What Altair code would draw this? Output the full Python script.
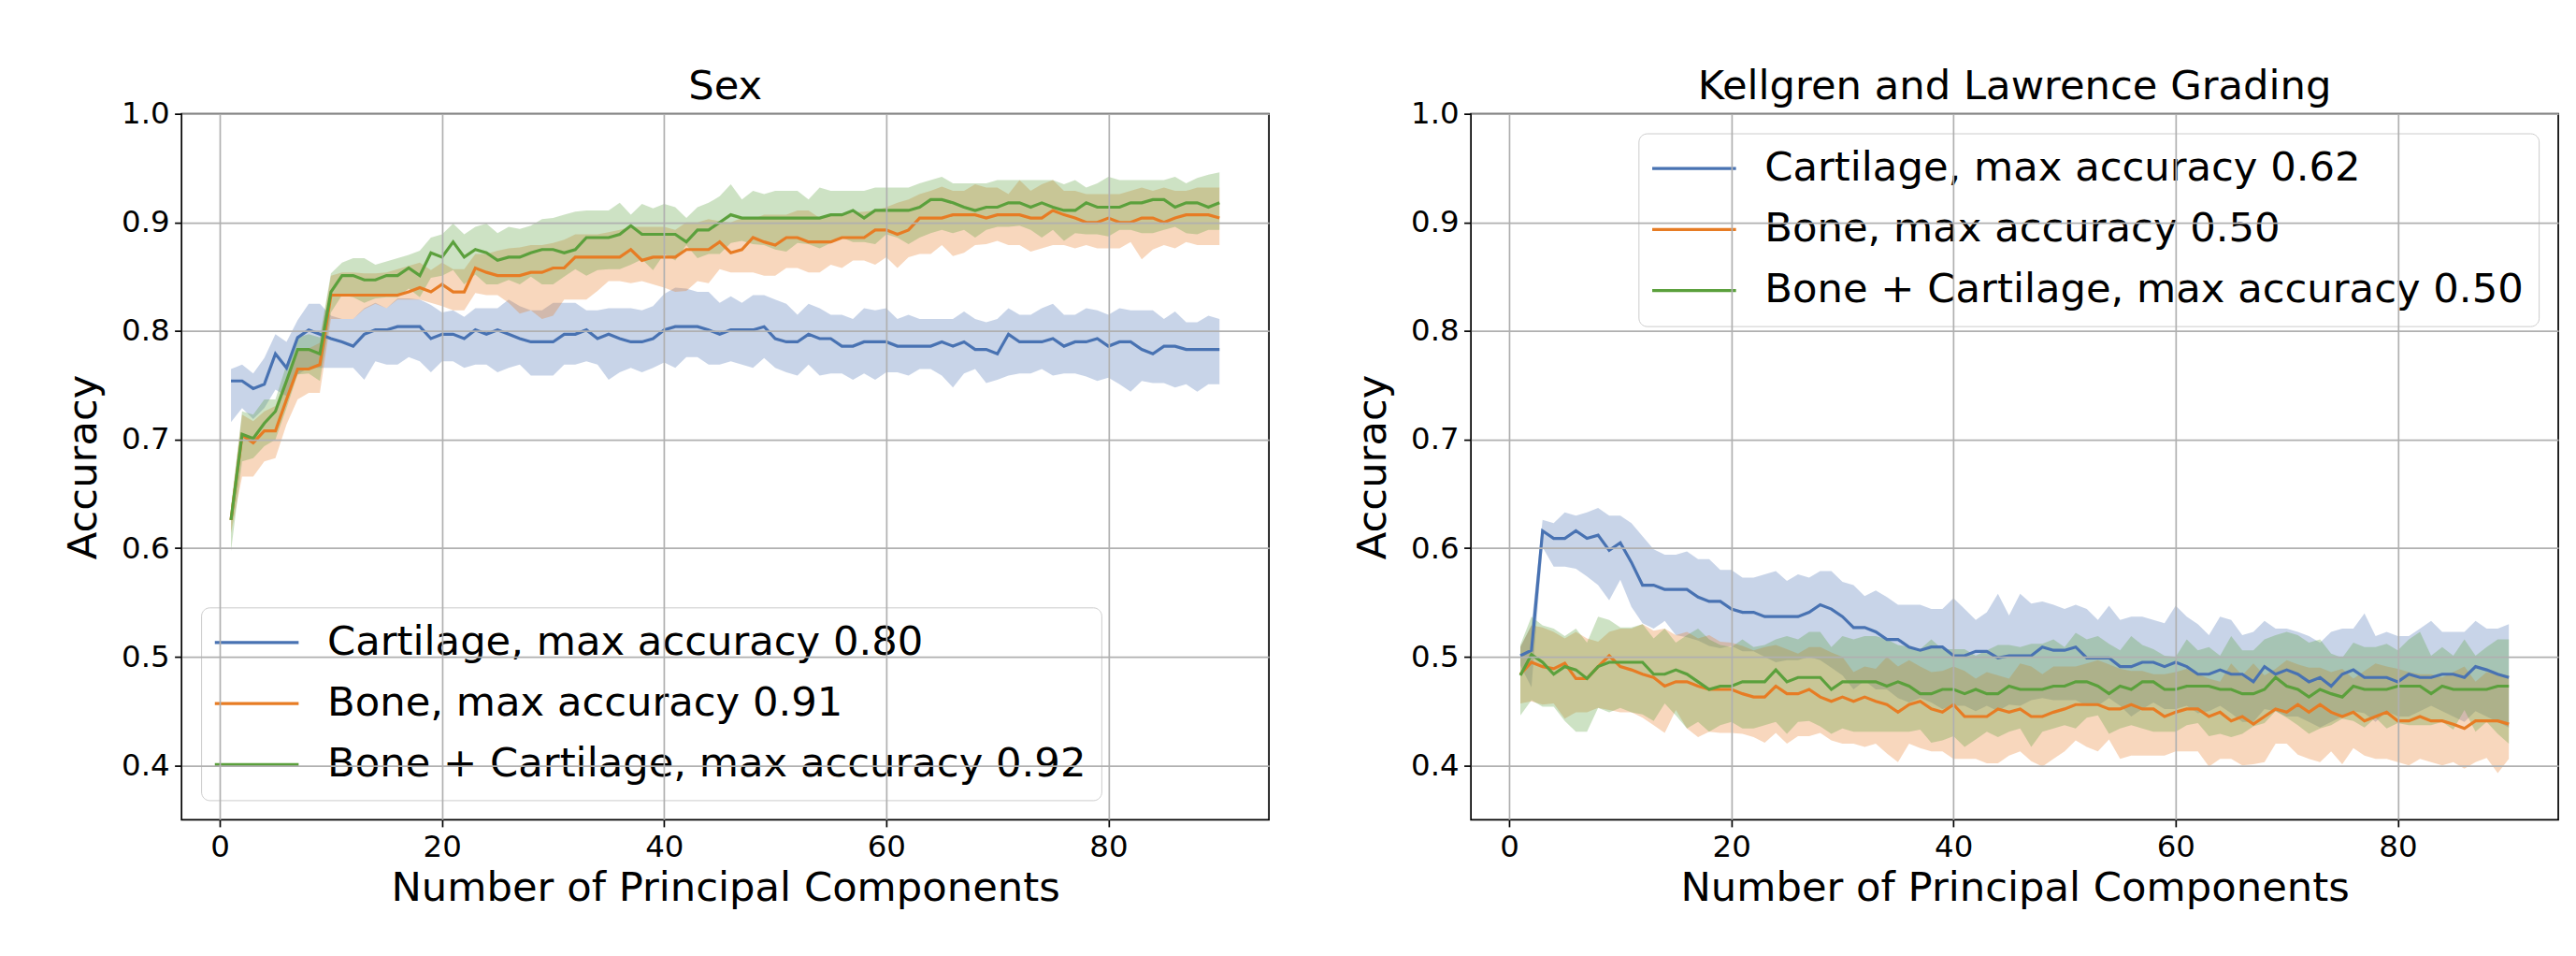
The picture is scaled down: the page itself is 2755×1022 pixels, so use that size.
import altair as alt
import pandas as pd

x_pc = list(range(1, 91))

# ---------------- Sex panel ----------------
sex_cart = [0.754, 0.754, 0.747, 0.751, 0.779, 0.766, 0.794, 0.801, 0.797, 0.793, 0.790, 0.786, 0.797, 0.801, 0.801, 0.804, 0.804, 0.804, 0.793, 0.797, 0.797, 0.793, 0.801,
            0.797, 0.801, 0.797, 0.793, 0.790, 0.790, 0.790, 0.797, 0.797, 0.801, 0.793, 0.797, 0.793, 0.790, 0.790, 0.793, 0.801, 0.804, 0.804, 0.804, 0.801, 0.797, 0.801,
            0.801, 0.801, 0.804, 0.793, 0.790, 0.790, 0.797, 0.793, 0.793, 0.786, 0.786, 0.790, 0.790, 0.790, 0.786, 0.786, 0.786, 0.786, 0.790, 0.786, 0.790, 0.783,
            0.783, 0.779, 0.797, 0.790, 0.790, 0.790, 0.793, 0.786, 0.790, 0.790, 0.793, 0.786, 0.790, 0.790, 0.783, 0.779, 0.786, 0.786, 0.783, 0.783, 0.783, 0.783]
sex_cart_hi = [0.765, 0.769, 0.761, 0.775, 0.797, 0.790, 0.810, 0.825, 0.825, 0.814, 0.811, 0.811, 0.821, 0.826, 0.821, 0.830, 0.830, 0.829, 0.824, 0.817, 0.819, 0.813, 0.821,
               0.821, 0.821, 0.829, 0.823, 0.819, 0.819, 0.826, 0.826, 0.826, 0.819, 0.819, 0.821, 0.821, 0.821, 0.819, 0.823, 0.834, 0.840, 0.839, 0.836, 0.836, 0.826, 0.832,
               0.826, 0.833, 0.833, 0.829, 0.825, 0.815, 0.825, 0.821, 0.815, 0.815, 0.811, 0.821, 0.819, 0.821, 0.811, 0.815, 0.811, 0.811, 0.811, 0.811, 0.818, 0.811,
               0.808, 0.811, 0.821, 0.815, 0.815, 0.821, 0.825, 0.815, 0.815, 0.821, 0.819, 0.815, 0.821, 0.819, 0.819, 0.819, 0.811, 0.818, 0.808, 0.808, 0.814, 0.811]
sex_cart_lo = [0.716, 0.729, 0.719, 0.729, 0.746, 0.740, 0.760, 0.766, 0.766, 0.766, 0.766, 0.766, 0.755, 0.772, 0.769, 0.769, 0.776, 0.772, 0.762, 0.772, 0.772, 0.766, 0.769,
               0.769, 0.762, 0.766, 0.769, 0.759, 0.759, 0.759, 0.769, 0.769, 0.772, 0.769, 0.755, 0.762, 0.766, 0.762, 0.766, 0.771, 0.766, 0.776, 0.776, 0.769, 0.769, 0.772,
               0.769, 0.766, 0.775, 0.766, 0.762, 0.759, 0.769, 0.759, 0.761, 0.761, 0.755, 0.761, 0.755, 0.762, 0.762, 0.759, 0.765, 0.765, 0.759, 0.748, 0.761, 0.765,
               0.752, 0.755, 0.759, 0.761, 0.761, 0.765, 0.759, 0.761, 0.761, 0.758, 0.754, 0.757, 0.751, 0.744, 0.754, 0.752, 0.752, 0.748, 0.751, 0.744, 0.751, 0.751]

sex_bone = [0.626, 0.704, 0.697, 0.708, 0.708, 0.737, 0.765, 0.765, 0.769, 0.833, 0.833, 0.833, 0.833, 0.833, 0.833, 0.833, 0.836, 0.840, 0.836, 0.843, 0.836, 0.836, 0.858,
            0.854, 0.851, 0.851, 0.851, 0.854, 0.854, 0.858, 0.858, 0.868, 0.868, 0.868, 0.868, 0.868, 0.875, 0.865, 0.868, 0.868, 0.868, 0.875, 0.875, 0.875, 0.882, 0.872,
            0.875, 0.886, 0.882, 0.879, 0.886, 0.886, 0.882, 0.882, 0.882, 0.886, 0.886, 0.886, 0.893, 0.893, 0.889, 0.893, 0.904, 0.904, 0.904, 0.907, 0.907, 0.907,
            0.904, 0.907, 0.907, 0.907, 0.904, 0.904, 0.911, 0.907, 0.904, 0.900, 0.900, 0.904, 0.900, 0.900, 0.904, 0.904, 0.900, 0.904, 0.907, 0.907, 0.907, 0.904]
sex_bone_hi = [0.637, 0.723, 0.717, 0.726, 0.731, 0.757, 0.783, 0.784, 0.789, 0.851, 0.854, 0.854, 0.853, 0.853, 0.854, 0.857, 0.860, 0.863, 0.856, 0.863, 0.857, 0.857, 0.871,
               0.871, 0.874, 0.876, 0.877, 0.879, 0.879, 0.881, 0.884, 0.889, 0.889, 0.889, 0.891, 0.893, 0.896, 0.896, 0.896, 0.896, 0.893, 0.900, 0.900, 0.903, 0.901, 0.900,
               0.904, 0.903, 0.907, 0.907, 0.907, 0.911, 0.911, 0.904, 0.907, 0.907, 0.909, 0.910, 0.911, 0.914, 0.918, 0.921, 0.926, 0.929, 0.933, 0.929, 0.929, 0.935,
               0.932, 0.932, 0.926, 0.939, 0.929, 0.935, 0.939, 0.929, 0.929, 0.926, 0.926, 0.926, 0.926, 0.929, 0.932, 0.929, 0.932, 0.929, 0.929, 0.932, 0.932, 0.932]
sex_bone_lo = [0.614, 0.666, 0.666, 0.680, 0.683, 0.714, 0.737, 0.743, 0.743, 0.811, 0.811, 0.811, 0.820, 0.825, 0.821, 0.829, 0.829, 0.829, 0.826, 0.823, 0.819, 0.819, 0.835,
               0.833, 0.833, 0.826, 0.816, 0.819, 0.811, 0.814, 0.829, 0.829, 0.829, 0.837, 0.846, 0.846, 0.844, 0.846, 0.843, 0.840, 0.836, 0.837, 0.846, 0.844, 0.857, 0.854,
               0.854, 0.854, 0.851, 0.851, 0.858, 0.858, 0.854, 0.854, 0.861, 0.858, 0.865, 0.865, 0.861, 0.868, 0.858, 0.868, 0.871, 0.871, 0.879, 0.869, 0.872, 0.879,
               0.880, 0.883, 0.879, 0.879, 0.873, 0.876, 0.879, 0.879, 0.876, 0.879, 0.876, 0.876, 0.876, 0.882, 0.866, 0.875, 0.879, 0.876, 0.882, 0.879, 0.879, 0.879]

sex_both = [0.626, 0.705, 0.701, 0.715, 0.726, 0.754, 0.783, 0.783, 0.779, 0.836, 0.851, 0.851, 0.847, 0.847, 0.851, 0.851, 0.858, 0.851, 0.872, 0.868, 0.882, 0.868, 0.875,
            0.872, 0.865, 0.868, 0.868, 0.872, 0.875, 0.875, 0.872, 0.875, 0.886, 0.886, 0.886, 0.889, 0.897, 0.889, 0.889, 0.889, 0.889, 0.882, 0.893, 0.893, 0.900, 0.907,
            0.904, 0.904, 0.904, 0.904, 0.904, 0.904, 0.904, 0.904, 0.907, 0.907, 0.911, 0.904, 0.911, 0.911, 0.911, 0.911, 0.914, 0.921, 0.921, 0.918, 0.914, 0.911,
            0.914, 0.914, 0.918, 0.918, 0.914, 0.918, 0.914, 0.911, 0.911, 0.918, 0.914, 0.914, 0.914, 0.918, 0.918, 0.921, 0.921, 0.914, 0.918, 0.918, 0.914, 0.918]
sex_both_hi = [0.637, 0.726, 0.723, 0.737, 0.737, 0.769, 0.794, 0.797, 0.794, 0.853, 0.863, 0.867, 0.867, 0.861, 0.864, 0.867, 0.870, 0.874, 0.886, 0.889, 0.899, 0.889, 0.896,
               0.899, 0.890, 0.896, 0.894, 0.897, 0.903, 0.904, 0.907, 0.910, 0.911, 0.911, 0.911, 0.918, 0.907, 0.917, 0.913, 0.917, 0.914, 0.904, 0.914, 0.918, 0.924, 0.935,
               0.921, 0.929, 0.926, 0.929, 0.929, 0.929, 0.921, 0.932, 0.929, 0.929, 0.929, 0.929, 0.932, 0.932, 0.932, 0.932, 0.936, 0.939, 0.942, 0.936, 0.936, 0.936,
               0.936, 0.939, 0.939, 0.939, 0.939, 0.939, 0.939, 0.935, 0.939, 0.932, 0.936, 0.942, 0.939, 0.939, 0.939, 0.939, 0.939, 0.942, 0.936, 0.941, 0.944, 0.946]
sex_both_lo = [0.597, 0.680, 0.683, 0.694, 0.700, 0.729, 0.760, 0.761, 0.754, 0.817, 0.833, 0.831, 0.826, 0.830, 0.831, 0.831, 0.839, 0.831, 0.849, 0.851, 0.856, 0.843, 0.852,
               0.843, 0.843, 0.847, 0.843, 0.850, 0.843, 0.843, 0.850, 0.857, 0.851, 0.856, 0.857, 0.857, 0.861, 0.866, 0.856, 0.871, 0.865, 0.879, 0.867, 0.871, 0.871, 0.881,
               0.883, 0.880, 0.879, 0.875, 0.873, 0.881, 0.880, 0.876, 0.881, 0.886, 0.882, 0.882, 0.880, 0.889, 0.886, 0.880, 0.886, 0.890, 0.893, 0.890, 0.893, 0.886,
               0.893, 0.896, 0.896, 0.897, 0.893, 0.886, 0.893, 0.883, 0.890, 0.889, 0.889, 0.887, 0.893, 0.893, 0.890, 0.890, 0.893, 0.896, 0.890, 0.889, 0.893, 0.893]

# ---------------- Kellgren and Lawrence panel ----------------
kl_cart = [0.501, 0.506, 0.616, 0.609, 0.609, 0.616, 0.609, 0.612, 0.598, 0.605, 0.587, 0.566, 0.566, 0.562, 0.562, 0.562, 0.555, 0.551, 0.551, 0.544, 0.541, 0.541, 0.537,
           0.537, 0.537, 0.537, 0.541, 0.548, 0.544, 0.537, 0.527, 0.527, 0.523, 0.516, 0.516, 0.509, 0.506, 0.509, 0.509, 0.501, 0.501, 0.505, 0.505, 0.499, 0.501,
           0.501, 0.501, 0.509, 0.506, 0.506, 0.509, 0.499, 0.499, 0.499, 0.491, 0.491, 0.495, 0.495, 0.491, 0.495, 0.491, 0.484, 0.484, 0.488, 0.484, 0.484, 0.477, 0.491,
           0.484, 0.488, 0.484, 0.477, 0.481, 0.473, 0.484, 0.488, 0.481, 0.481, 0.481, 0.477, 0.484, 0.481, 0.481, 0.484, 0.484, 0.481, 0.491, 0.488, 0.484, 0.481]
kl_cart_hi = [0.509, 0.529, 0.626, 0.623, 0.633, 0.630, 0.633, 0.637, 0.630, 0.630, 0.623, 0.611, 0.599, 0.594, 0.594, 0.597, 0.590, 0.590, 0.580, 0.580, 0.573, 0.573, 0.576,
              0.579, 0.570, 0.576, 0.573, 0.579, 0.579, 0.569, 0.566, 0.556, 0.561, 0.555, 0.548, 0.548, 0.548, 0.544, 0.544, 0.554, 0.544, 0.534, 0.541, 0.558, 0.538,
              0.558, 0.549, 0.551, 0.548, 0.544, 0.548, 0.544, 0.534, 0.547, 0.534, 0.537, 0.537, 0.534, 0.531, 0.547, 0.537, 0.530, 0.520, 0.537, 0.534, 0.520, 0.523, 0.533,
              0.526, 0.526, 0.523, 0.519, 0.513, 0.523, 0.526, 0.526, 0.540, 0.519, 0.523, 0.519, 0.519, 0.526, 0.533, 0.523, 0.523, 0.523, 0.533, 0.526, 0.526, 0.530]
kl_cart_lo = [0.492, 0.472, 0.601, 0.583, 0.583, 0.581, 0.574, 0.566, 0.552, 0.571, 0.546, 0.531, 0.526, 0.533, 0.520, 0.518, 0.515, 0.510, 0.508, 0.510, 0.505, 0.505, 0.500,
              0.495, 0.497, 0.497, 0.500, 0.497, 0.490, 0.483, 0.470, 0.478, 0.470, 0.470, 0.462, 0.458, 0.462, 0.458, 0.452, 0.455, 0.455, 0.450, 0.455, 0.450, 0.456,
              0.455, 0.460, 0.462, 0.460, 0.460, 0.460, 0.455, 0.455, 0.462, 0.455, 0.445, 0.452, 0.458, 0.452, 0.452, 0.455, 0.448, 0.450, 0.455, 0.448, 0.440, 0.440, 0.452,
              0.450, 0.445, 0.445, 0.440, 0.435, 0.440, 0.445, 0.450, 0.448, 0.440, 0.450, 0.445, 0.445, 0.450, 0.455, 0.450, 0.445, 0.440, 0.450, 0.445, 0.440, 0.435]

kl_bone = [0.484, 0.495, 0.491, 0.489, 0.494, 0.480, 0.480, 0.491, 0.501, 0.491, 0.488, 0.484, 0.481, 0.473, 0.477, 0.477, 0.473, 0.470, 0.470, 0.470, 0.466, 0.463, 0.463,
           0.473, 0.466, 0.466, 0.470, 0.463, 0.459, 0.463, 0.459, 0.463, 0.459, 0.456, 0.449, 0.456, 0.459, 0.452, 0.449, 0.456, 0.445, 0.445, 0.445, 0.452, 0.449,
           0.452, 0.445, 0.445, 0.449, 0.452, 0.456, 0.456, 0.456, 0.452, 0.452, 0.456, 0.452, 0.452, 0.445, 0.449, 0.452, 0.452, 0.445, 0.449, 0.441, 0.445, 0.438, 0.445,
           0.452, 0.449, 0.456, 0.449, 0.456, 0.449, 0.445, 0.449, 0.441, 0.445, 0.449, 0.441, 0.441, 0.445, 0.441, 0.441, 0.438, 0.434, 0.441, 0.441, 0.441, 0.438]
kl_bone_hi = [0.509, 0.529, 0.527, 0.523, 0.517, 0.523, 0.517, 0.514, 0.523, 0.526, 0.526, 0.530, 0.524, 0.526, 0.520, 0.523, 0.517, 0.520, 0.514, 0.513, 0.510, 0.506, 0.509,
              0.511, 0.507, 0.503, 0.509, 0.509, 0.504, 0.500, 0.486, 0.491, 0.489, 0.500, 0.491, 0.497, 0.491, 0.486, 0.487, 0.491, 0.487, 0.480, 0.486, 0.483, 0.480,
              0.494, 0.491, 0.484, 0.491, 0.491, 0.491, 0.494, 0.497, 0.493, 0.489, 0.487, 0.487, 0.484, 0.484, 0.486, 0.489, 0.484, 0.480, 0.477, 0.494, 0.483, 0.494, 0.483,
              0.489, 0.497, 0.493, 0.490, 0.490, 0.486, 0.489, 0.480, 0.487, 0.494, 0.491, 0.489, 0.486, 0.484, 0.484, 0.481, 0.486, 0.491, 0.477, 0.486, 0.484, 0.483]
kl_bone_lo = [0.457, 0.459, 0.456, 0.457, 0.443, 0.449, 0.449, 0.453, 0.451, 0.449, 0.449, 0.444, 0.437, 0.430, 0.451, 0.434, 0.426, 0.431, 0.430, 0.430, 0.429, 0.426, 0.421,
              0.430, 0.420, 0.427, 0.427, 0.430, 0.423, 0.420, 0.420, 0.417, 0.420, 0.411, 0.403, 0.420, 0.416, 0.413, 0.413, 0.406, 0.406, 0.406, 0.402, 0.402, 0.409,
              0.413, 0.404, 0.399, 0.406, 0.413, 0.423, 0.417, 0.413, 0.424, 0.406, 0.409, 0.409, 0.409, 0.409, 0.413, 0.413, 0.413, 0.399, 0.406, 0.406, 0.400, 0.401, 0.403,
              0.420, 0.420, 0.410, 0.406, 0.403, 0.413, 0.401, 0.416, 0.409, 0.406, 0.406, 0.403, 0.400, 0.406, 0.403, 0.400, 0.403, 0.397, 0.403, 0.407, 0.393, 0.406]

kl_both = [0.483, 0.502, 0.495, 0.484, 0.491, 0.488, 0.480, 0.491, 0.495, 0.495, 0.495, 0.495, 0.484, 0.484, 0.488, 0.484, 0.477, 0.470, 0.473, 0.473, 0.477, 0.477, 0.477,
           0.488, 0.477, 0.481, 0.481, 0.481, 0.470, 0.477, 0.477, 0.477, 0.477, 0.473, 0.477, 0.473, 0.466, 0.466, 0.470, 0.470, 0.466, 0.470, 0.466, 0.466, 0.473,
           0.470, 0.470, 0.470, 0.473, 0.473, 0.477, 0.477, 0.473, 0.466, 0.473, 0.470, 0.477, 0.477, 0.470, 0.470, 0.473, 0.473, 0.473, 0.470, 0.470, 0.466, 0.466, 0.470,
           0.481, 0.473, 0.470, 0.463, 0.470, 0.466, 0.463, 0.473, 0.470, 0.470, 0.470, 0.473, 0.473, 0.473, 0.466, 0.473, 0.470, 0.470, 0.470, 0.470, 0.473, 0.473]
kl_both_hi = [0.511, 0.537, 0.529, 0.526, 0.519, 0.526, 0.513, 0.537, 0.534, 0.527, 0.527, 0.530, 0.517, 0.526, 0.513, 0.520, 0.526, 0.516, 0.511, 0.509, 0.516, 0.509, 0.511,
              0.516, 0.519, 0.516, 0.523, 0.523, 0.509, 0.519, 0.516, 0.519, 0.519, 0.516, 0.511, 0.509, 0.507, 0.516, 0.507, 0.507, 0.507, 0.501, 0.506, 0.511, 0.511,
              0.509, 0.512, 0.512, 0.516, 0.509, 0.522, 0.516, 0.519, 0.512, 0.506, 0.519, 0.511, 0.507, 0.501, 0.500, 0.516, 0.506, 0.509, 0.501, 0.519, 0.506, 0.506, 0.516,
              0.520, 0.523, 0.520, 0.513, 0.516, 0.503, 0.499, 0.513, 0.509, 0.509, 0.512, 0.506, 0.516, 0.523, 0.501, 0.509, 0.501, 0.516, 0.501, 0.509, 0.516, 0.516]
kl_both_lo = [0.446, 0.460, 0.454, 0.454, 0.441, 0.431, 0.431, 0.453, 0.449, 0.453, 0.449, 0.447, 0.441, 0.457, 0.446, 0.434, 0.440, 0.431, 0.437, 0.440, 0.434, 0.434, 0.437,
              0.440, 0.429, 0.440, 0.441, 0.436, 0.429, 0.434, 0.431, 0.431, 0.431, 0.431, 0.431, 0.431, 0.433, 0.421, 0.423, 0.427, 0.417, 0.424, 0.431, 0.426, 0.431,
              0.434, 0.417, 0.431, 0.434, 0.437, 0.434, 0.444, 0.446, 0.429, 0.434, 0.437, 0.434, 0.431, 0.431, 0.431, 0.437, 0.439, 0.427, 0.429, 0.426, 0.429, 0.436, 0.439,
              0.450, 0.444, 0.437, 0.429, 0.434, 0.437, 0.443, 0.441, 0.435, 0.444, 0.434, 0.439, 0.437, 0.437, 0.437, 0.440, 0.433, 0.451, 0.431, 0.440, 0.429, 0.420]

sex_labels = ["Cartilage, max accuracy 0.80", "Bone, max accuracy 0.91", "Bone + Cartilage, max accuracy 0.92"]
kl_labels = ["Cartilage, max accuracy 0.62", "Bone, max accuracy 0.50", "Bone + Cartilage, max accuracy 0.50"]
colors = ["#4872b2", "#e77c24", "#5ba03c"]


def make_df(labels, series):
    frames = []
    for lab, (m, lo, hi) in zip(labels, series):
        assert len(m) == 90 and len(lo) == 90 and len(hi) == 90, lab
        frames.append(pd.DataFrame({"x": x_pc, "mean": m, "lo": lo, "hi": hi, "series": lab, "band": lab}))
    return pd.concat(frames, ignore_index=True)


sex_df = make_df(sex_labels, [(sex_cart, sex_cart_lo, sex_cart_hi),
                              (sex_bone, sex_bone_lo, sex_bone_hi),
                              (sex_both, sex_both_lo, sex_both_hi)])
kl_df = make_df(kl_labels, [(kl_cart, kl_cart_lo, kl_cart_hi),
                            (kl_bone, kl_bone_lo, kl_bone_hi),
                            (kl_both, kl_both_lo, kl_both_hi)])

W, H = 1168, 758


def panel(df, labels, title, legend_orient):
    xs = alt.Scale(domain=[-3.45, 94.45], nice=False, zero=False)
    ys = alt.Scale(domain=[0.35, 1.0], nice=False, zero=False)
    x_axis = alt.Axis(values=[0, 20, 40, 60, 80], format="d", title="Number of Principal Components",
                      titleY=87, titleBaseline="alphabetic", labelFlush=False, labelOverlap=False, zindex=1)
    y_axis = alt.Axis(values=[0.4, 0.5, 0.6, 0.7, 0.8, 0.9, 1.0], format=".1f", title="Accuracy",
                      titleX=-92, titleY=H / 2, titleAngle=270, titleBaseline="alphabetic", titleAlign="center",
                      labelFlush=False, labelOverlap=False, zindex=1)
    legend = alt.Legend(
        orient=legend_orient, offset=21, title=None,
        fillColor="rgba(255,255,255,0.8)", strokeColor="#cccccc", cornerRadius=9, padding=16,
        symbolType="M-3,0H3", symbolSize=900, symbolStrokeWidth=3.2, symbolOffset=22,
        labelFont="DejaVu Sans", labelFontSize=43.5, labelColor="black", labelLimit=1500,
        labelOffset=54, rowPadding=20.5,
    )
    base = alt.Chart(df)
    area = base.mark_area(opacity=0.3).encode(
        x=alt.X("x:Q", scale=xs, axis=x_axis),
        y=alt.Y("lo:Q", scale=ys, axis=y_axis),
        y2="hi:Q",
        fill=alt.Fill("band:N", sort=labels, scale=alt.Scale(range=colors), legend=None),
    )
    line = base.mark_line(strokeWidth=3.2).encode(
        x=alt.X("x:Q", scale=xs, axis=x_axis),
        y=alt.Y("mean:Q", scale=ys, axis=y_axis),
        color=alt.Color("series:N", sort=labels, scale=alt.Scale(domain=labels, range=colors), legend=legend),
    )
    return alt.layer(area, line).properties(
        width=W, height=H,
        title=alt.Title(title, offset=0, dy=10),
    )


left = panel(sex_df, sex_labels, "Sex", "bottom-left")
right = panel(kl_df, kl_labels, "Kellgren and Lawrence Grading", "top-right")

chart = (
    alt.hconcat(left, right, spacing=88)
    .resolve_scale(color="independent", fill="independent")
    .resolve_legend(color="independent")
    .properties(padding={"left": 59, "top": 60, "right": 10, "bottom": 5})
    .configure_view(stroke="black", strokeWidth=1.7)
    .configure_axis(grid=True, gridColor="#b0b0b0", gridWidth=1.7, domain=False,
                    tickColor="black", tickWidth=1.7, tickSize=7.6,
                    labelFont="DejaVu Sans", labelFontSize=32.6, labelColor="black", labelPadding=5.5,
                    titleFont="DejaVu Sans", titleFontSize=43.5, titleFontWeight="normal", titleColor="black")
    .configure_title(font="DejaVu Sans", fontSize=43.5, fontWeight="normal", color="black",
                     anchor="middle", frame="group")
)

chart.save("out.html", embed_options={"renderer": "svg", "actions": False})
